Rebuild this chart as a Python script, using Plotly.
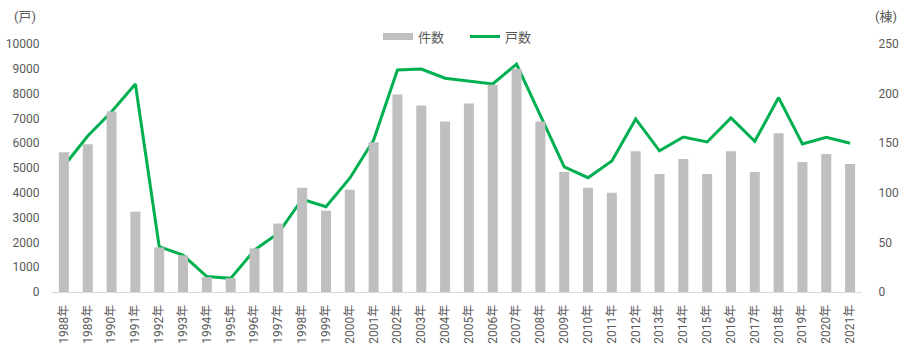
import plotly.graph_objects as go

years = [f"{y}年" for y in range(1988, 2022)]

# 件数 (棟, right axis) - bars
kensu = [141, 149, 182, 81, 45, 37, 15, 14, 44, 69, 105, 82, 103, 151, 199, 188, 172, 190, 209, 225,
         172, 121, 105, 100, 142, 119, 134, 119, 142, 121, 160, 131, 139, 129]

# 戸数 (戸, left axis) - line
kosu = [5080, 6290, 7270, 8390, 1830, 1490, 620, 550, 1690, 2370, 3740, 3440, 4590, 6130, 8950, 8990,
        8620, 8520, 8390, 9190, 7130, 5050, 4610, 5280, 6980, 5690, 6250, 6050, 7020, 6080, 7840,
        5970, 6240, 6000]

left_ticks = [0, 1000, 2000, 3000, 4000, 5000, 6000, 7000, 8000, 9000, 10000]
right_ticks = [0, 50, 100, 150, 200, 250]

FONT = "Roboto, 'Noto Sans CJK JP', sans-serif"
GRAY = "#595959"
BAR_COLOR = "#BFBFBF"

fig = go.Figure()
fig.add_trace(go.Bar(x=years, y=kensu, name="件数", marker_color=BAR_COLOR,
                     marker_line_width=0, yaxis="y2", showlegend=False))
# legend proxy for the bars (wide gray swatch, no data)
fig.add_trace(go.Scatter(x=[None], y=[None], name="件数", mode="lines",
                         line=dict(color=BAR_COLOR, width=7), yaxis="y2"))
fig.add_trace(go.Scatter(x=years, y=kosu, name="戸数", mode="lines",
                         line=dict(color="#00B050", width=3), yaxis="y"))

fig.update_layout(
    width=904, height=353,
    margin=dict(l=52, r=42, t=44, b=61, autoexpand=False),
    paper_bgcolor="white", plot_bgcolor="white",
    font=dict(family=FONT, size=12, color=GRAY),
    bargap=0.58,
    showlegend=True,
    legend=dict(orientation="h", x=0.4025, xanchor="left", y=1.03, yanchor="middle",
                font=dict(size=13, color=GRAY), bgcolor="rgba(0,0,0,0)", traceorder="normal",
                itemwidth=30, entrywidth=42, entrywidthmode="pixels"),
    xaxis=dict(type="category", tickangle=-90, showgrid=False, showline=True,
               linecolor="#D9D9D9", linewidth=1, ticks="outside", ticklen=7,
               tickcolor="rgba(0,0,0,0)", tickfont=dict(size=12, color=GRAY),
               automargin=False),
    yaxis=dict(range=[0, 10000], tickvals=left_ticks, ticktext=[str(v) for v in left_ticks],
               showgrid=False, zeroline=False, automargin=False,
               ticks="outside", ticklen=9, tickcolor="rgba(0,0,0,0)",
               tickfont=dict(size=12, color=GRAY)),
    yaxis2=dict(range=[0, 250], tickvals=right_ticks, ticktext=[str(v) for v in right_ticks],
                overlaying="y", side="right", automargin=False,
                showgrid=False, zeroline=False, ticks="outside", ticklen=13,
                tickcolor="rgba(0,0,0,0)", tickfont=dict(size=12, color=GRAY)),
    annotations=[
        dict(text="(戸)", xref="paper", yref="paper", x=-0.0333, y=1.11, xanchor="center",
             yanchor="middle", showarrow=False, font=dict(size=13, color=GRAY)),
        dict(text="(棟)", xref="paper", yref="paper", x=1.0295, y=1.11, xanchor="center",
             yanchor="middle", showarrow=False, font=dict(size=13, color=GRAY)),
    ],
)

fig.write_html("out.html")
